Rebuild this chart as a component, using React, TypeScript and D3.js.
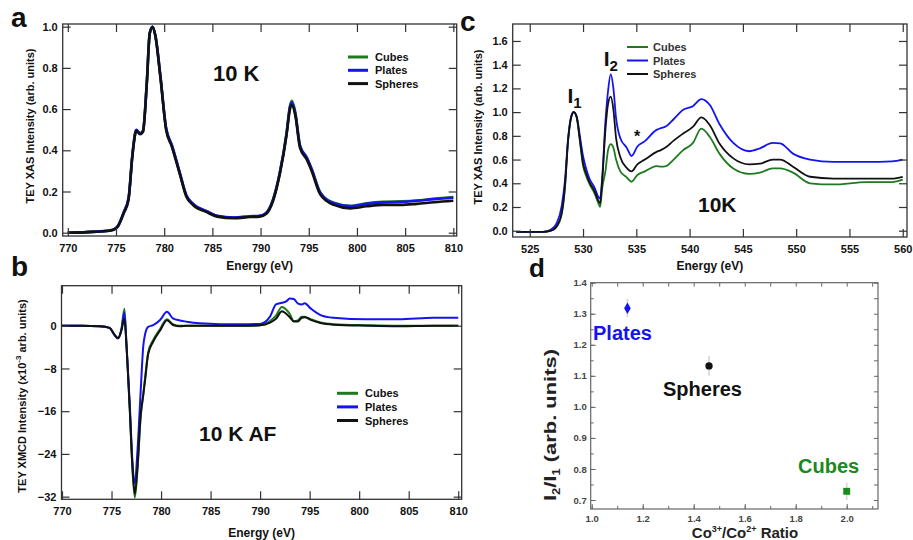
import { useEffect, useRef } from 'react'
import * as d3 from 'd3'

const FONT = '"Liberation Sans", Arial, Helvetica, sans-serif'
const GREEN = '#1f7a1f'
const BLUE = '#1414f0'
const BLACK = '#111111'

// ---- panel a : Co L-edge XAS ----
const energyA = [770, 772, 774, 774.7, 775.2, 775.8, 776.3, 776.7, 777.0, 777.1, 777.5, 777.8, 778.2, 778.5, 778.8, 779.1, 779.6, 780.2, 780.8, 781.6, 782.3, 783.0, 784.4, 785.5, 787.2, 788.9, 789.9, 790.6, 791.3, 792.0, 792.7, 793.05, 793.25, 793.6, 794.1, 794.8, 795.3, 796.2, 797.6, 799.3, 801.0, 802.7, 804.5, 806.2, 808.0, 810.0]
const cubesA = [0.0, 0.003, 0.008, 0.014, 0.032, 0.097, 0.164, 0.375, 0.484, 0.498, 0.48, 0.492, 0.73, 0.968, 1.0, 0.953, 0.762, 0.505, 0.422, 0.292, 0.18, 0.139, 0.104, 0.081, 0.073, 0.079, 0.081, 0.096, 0.161, 0.292, 0.485, 0.615, 0.64, 0.585, 0.422, 0.365, 0.31, 0.195, 0.145, 0.13, 0.143, 0.15, 0.152, 0.156, 0.165, 0.173]
const platesA = [0.0, 0.003, 0.009, 0.015, 0.034, 0.1, 0.168, 0.38, 0.487, 0.5, 0.483, 0.495, 0.735, 0.97, 1.0, 0.955, 0.765, 0.508, 0.425, 0.295, 0.182, 0.14, 0.105, 0.082, 0.074, 0.08, 0.082, 0.097, 0.162, 0.292, 0.482, 0.61, 0.632, 0.58, 0.42, 0.363, 0.308, 0.193, 0.143, 0.128, 0.14, 0.147, 0.149, 0.155, 0.163, 0.17]
const spheresA = [0.0, 0.003, 0.008, 0.013, 0.03, 0.094, 0.16, 0.37, 0.48, 0.495, 0.478, 0.49, 0.725, 0.966, 1.0, 0.95, 0.757, 0.5, 0.417, 0.288, 0.175, 0.134, 0.1, 0.078, 0.07, 0.076, 0.078, 0.092, 0.155, 0.285, 0.475, 0.6, 0.62, 0.57, 0.41, 0.355, 0.3, 0.185, 0.135, 0.118, 0.128, 0.135, 0.135, 0.14, 0.148, 0.155]

// ---- panel b : XMCD ----
const energyB = [770, 772, 773.8, 774.8, 775.3, 775.65, 776.0, 776.3, 776.5, 776.85, 777.1, 777.35, 777.6, 777.95, 778.2, 778.4, 778.7, 779.2, 779.9, 780.6, 781.2, 781.9, 782.6, 783.9, 786, 788, 790, 791, 791.6, 792.2, 792.6, 793.0, 793.4, 793.8, 794.2, 794.5, 795.1, 796.1, 797.4, 800.8, 804, 807.5, 810]
const cubesB = [0, 0, -0.1, -0.4, -1.7, -2.3, -0.6, 3.2, -3.2, -16, -26.5, -32.2, -27.5, -17, -13, -9.5, -5.0, -2.7, -0.6, 1.2, 0.3, 0, 0, 0, 0, 0, 0.1, 0.9, 1.9, 3.5, 3.1, 2.2, 0.9, 1.0, 1.7, 1.7, 1.25, 0.6, 0.3, 0.1, 0, 0, 0]
const platesB = [0, 0, -0.1, -0.4, -1.7, -2.3, -0.7, 2.5, -3.0, -15, -25, -29.5, -24, -12, -3.9, -1.5, -0.2, 0.1, 1.07, 2.6, 1.4, 1.0, 0.75, 0.45, 0.3, 0.3, 0.35, 1.7, 4.0, 4.3, 4.5, 5.1, 5.0, 4.2, 4.0, 4.2, 3.25, 2.0, 1.5, 1.2, 1.2, 1.5, 1.5]
const spheresB = [0, 0, -0.1, -0.4, -1.7, -2.4, -0.9, 1.3, -3.5, -16, -26, -31.5, -27, -16.5, -13, -10, -5.3, -3.0, -0.9, 1.05, 0.15, -0.1, 0, 0, 0, 0, 0.1, 0.6, 1.3, 2.7, 2.3, 1.6, 0.8, 0.8, 1.5, 1.6, 1.1, 0.5, 0.2, 0, -0.1, 0, 0]

// ---- panel c : O K-edge XAS ----
const energyC = [523.75, 526.25, 527.0, 527.5, 528.0, 528.3, 528.6, 528.9, 529.13, 529.4, 529.7, 530.0, 530.3, 530.6, 531.1, 531.4, 531.6, 531.8, 532.1, 532.35, 532.6, 532.85, 533.1, 533.5, 534.1, 534.55, 535.1, 535.8, 536.9, 537.3, 537.8, 538.5, 539.4, 540.3, 541.1, 541.9, 542.8, 544.1, 545.6, 546.6, 547.8, 548.5, 549.7, 551.3, 553.5, 556.6, 559, 560]
const cubesC = [-0.01, -0.01, 0.0, 0.03, 0.14, 0.36, 0.76, 0.96, 1.0, 0.955, 0.76, 0.55, 0.46, 0.395, 0.31, 0.24, 0.2, 0.36, 0.5, 0.68, 0.73, 0.7, 0.6, 0.5, 0.45, 0.413, 0.47, 0.5, 0.545, 0.54, 0.545, 0.6, 0.68, 0.738, 0.86, 0.79, 0.65, 0.525, 0.48, 0.49, 0.525, 0.525, 0.49, 0.4, 0.39, 0.41, 0.41, 0.43]
const platesC = [-0.01, -0.01, 0.01, 0.06, 0.21, 0.42, 0.78, 0.97, 1.0, 0.965, 0.8, 0.63, 0.52, 0.44, 0.36, 0.29, 0.27, 0.45, 0.92, 1.18, 1.32, 1.2, 0.95, 0.78, 0.7, 0.63, 0.71, 0.755, 0.85, 0.865, 0.88, 0.94, 1.02, 1.05, 1.11, 1.06, 0.9, 0.74, 0.67, 0.695, 0.74, 0.737, 0.65, 0.6, 0.58, 0.58, 0.585, 0.6]
const spheresC = [-0.01, -0.01, 0.0, 0.034, 0.15, 0.37, 0.765, 0.96, 1.0, 0.96, 0.77, 0.57, 0.48, 0.41, 0.33, 0.26, 0.23, 0.42, 0.85, 1.07, 1.13, 1.02, 0.78, 0.62, 0.53, 0.5, 0.56, 0.6, 0.665, 0.68, 0.705, 0.76, 0.82, 0.875, 0.955, 0.89, 0.735, 0.61, 0.56, 0.565, 0.6, 0.6, 0.54, 0.455, 0.44, 0.44, 0.44, 0.455]

// ---- panel d : I2/I1 vs Co3+/Co2+ ----
const samples = ['Plates', 'Spheres', 'Cubes']
const coRatio = [1.14, 1.46, 2.0]
const peakRatio = [1.318, 1.132, 0.728]
const peakErr = [0.03, 0.032, 0.028]

const seriesNames = ['Cubes', 'Plates', 'Spheres']
const seriesColors = [GREEN, BLUE, BLACK]

function drawPanel(svg: any, p: any) {
  const x = d3.scaleLinear().domain(p.xDomain).range([p.left, p.right])
  const y = d3.scaleLinear().domain(p.yDomain).range([p.bottom, p.top])

  svg.append('clipPath').attr('id', 'clip-' + p.id)
    .append('rect')
    .attr('x', p.left).attr('y', p.top)
    .attr('width', p.right - p.left).attr('height', p.bottom - p.top)

  const line = d3.line<any>()
    .x(d => x(d[0]))
    .y(d => y(d[1]))
    .curve(d3.curveMonotoneX)

  const plot = svg.append('g').attr('clip-path', `url(#clip-${p.id})`)
  p.series.forEach((vals: number[], i: number) => {
    plot.append('path')
      .datum(d3.zip(p.energy, vals))
      .attr('d', line)
      .attr('fill', 'none')
      .attr('stroke', seriesColors[i])
      .attr('stroke-width', p.lineWidth)
      .attr('stroke-linejoin', 'round')
  })

  const styleAxis = (g: any, size: number) => {
    g.attr('font-family', FONT).attr('font-size', size)
    g.select('.domain').remove()
    g.selectAll('line').attr('stroke', '#333').attr('stroke-width', 1.2)
    g.selectAll('text').attr('font-weight', 'bold').attr('fill', '#111')
  }

  svg.append('g').attr('transform', `translate(0,${p.bottom})`)
    .call(d3.axisBottom(x).tickValues(p.xTicks).tickSize(-8).tickPadding(8.3).tickFormat(d3.format('d')))
    .call((g: any) => styleAxis(g, 11))
  svg.append('g').attr('transform', `translate(0,${p.top})`)
    .call(d3.axisTop(x).tickValues(p.xTicks).tickSize(-8).tickFormat(() => ''))
    .call((g: any) => styleAxis(g, 11))
  svg.append('g').attr('transform', `translate(${p.left},0)`)
    .call(d3.axisLeft(y).tickValues(p.yTicks).tickSize(-8).tickPadding(5).tickFormat(p.yFormat))
    .call((g: any) => styleAxis(g, 11))
  svg.append('g').attr('transform', `translate(${p.right},0)`)
    .call(d3.axisRight(y).tickValues(p.yTicks).tickSize(-8).tickFormat(() => ''))
    .call((g: any) => styleAxis(g, 11))

  svg.append('rect')
    .attr('x', p.left).attr('y', p.top)
    .attr('width', p.right - p.left).attr('height', p.bottom - p.top)
    .attr('fill', 'none').attr('stroke', '#333').attr('stroke-width', 1.3)

  // x title
  svg.append('text')
    .attr('x', (p.left + p.right) / 2).attr('y', p.xTitleY)
    .attr('text-anchor', 'middle')
    .attr('font-family', FONT).attr('font-size', 12).attr('font-weight', 'bold').attr('fill', '#111')
    .text('Energy (eV)')

  // y title
  const yt = svg.append('text')
    .attr('transform', `translate(${p.yTitleX},${p.yTitleCY}) rotate(-90)`)
    .attr('text-anchor', 'middle')
    .attr('font-family', FONT).attr('font-size', 11).attr('font-weight', 'bold').attr('fill', '#111')
  p.yTitle(yt)

  // legend
  seriesNames.forEach((name, i) => {
    const ly = p.legend.y + i * p.legend.dy
    svg.append('line')
      .attr('x1', p.legend.x).attr('x2', p.legend.x + p.legend.len)
      .attr('y1', ly).attr('y2', ly)
      .attr('stroke', seriesColors[i]).attr('stroke-width', p.legend.width)
    svg.append('text')
      .attr('x', p.legend.tx).attr('y', ly + 4)
      .attr('font-family', FONT).attr('font-size', 11).attr('font-weight', 'bold')
      .attr('fill', p.legend.color)
      .text(name)
  })

  return { x, y }
}

export default function App() {
  const ref = useRef<SVGSVGElement>(null)

  useEffect(() => {
    const svg = d3.select(ref.current)
    svg.selectAll('*').remove()

    const bigText = (x: number, y: number, size: number, txt: string) =>
      svg.append('text').attr('x', x).attr('y', y)
        .attr('font-family', FONT).attr('font-size', size).attr('font-weight', 'bold').attr('fill', '#111')
        .text(txt)

    // a
    drawPanel(svg, {
      id: 'a', left: 62.7, right: 456.7, top: 24, bottom: 236,
      xDomain: [769.47, 810.35], yDomain: [-0.016, 1.013],
      xTicks: d3.range(770, 811, 5), yTicks: [0, 0.2, 0.4, 0.6, 0.8, 1.0], yFormat: d3.format('.1f'),
      energy: energyA, series: [cubesA, platesA, spheresA], lineWidth: 2.6,
      xTitleY: 269.5, yTitleX: 34, yTitleCY: 126,
      yTitle: (t: any) => t.text('TEY XAS Intensity (arb. units)'),
      legend: { x: 348, len: 20, tx: 375, y: 57, dy: 13.3, width: 3, color: '#111' },
    })
    bigText(213, 80.5, 22, '10 K')

    // b
    drawPanel(svg, {
      id: 'b', left: 61.5, right: 461.7, top: 285.7, bottom: 499.3,
      xDomain: [769.95, 810.35], yDomain: [-32.5, 7.5],
      xTicks: d3.range(770, 811, 5), yTicks: [0, -8, -16, -24, -32], yFormat: d3.format('d'),
      energy: energyB, series: [cubesB, platesB, spheresB], lineWidth: 2,
      xTitleY: 537, yTitleX: 26, yTitleCY: 396,
      yTitle: (t: any) => {
        t.append('tspan').text('TEY XMCD Intensity (x10')
        t.append('tspan').attr('dy', -5).attr('font-size', 8).text('-3')
        t.append('tspan').attr('dy', 5).text('  arb. units)')
      },
      legend: { x: 337, len: 21, tx: 365, y: 393.3, dy: 13.6, width: 3, color: '#111' },
    })
    bigText(199, 440.7, 21, '10 K AF')

    // c
    const c = drawPanel(svg, {
      id: 'c', left: 512.7, right: 907, top: 24, bottom: 237,
      xDomain: [523.4, 560.4], yDomain: [-0.053, 1.743],
      xTicks: d3.range(525, 561, 5), yTicks: d3.range(0, 1.61, 0.2), yFormat: d3.format('.1f'),
      energy: energyC, series: [cubesC, platesC, spheresC], lineWidth: 1.8,
      xTitleY: 270, yTitleX: 482, yTitleCY: 127,
      yTitle: (t: any) => t.text('TEY XAS Intensity (arb. units)'),
      legend: { x: 627, len: 21, tx: 653, y: 47, dy: 13.5, width: 2, color: '#333' },
    })
    bigText(698, 211.7, 21, '10K')
    const peakLabel = (x: number, y: number, sub: string) => {
      const t = svg.append('text').attr('x', x).attr('y', y)
        .attr('font-family', FONT).attr('font-size', 21).attr('font-weight', 'bold').attr('fill', '#111')
      t.append('tspan').text('I')
      t.append('tspan').attr('dy', 5).attr('font-size', 15).text(sub)
    }
    peakLabel(c.x(529.0) - 5, 103, '1')
    peakLabel(c.x(532.6) - 7, 66, '2')
    bigText(634, 142, 16, '*')

    // panel letters
    bigText(11, 27, 28, 'a')
    bigText(11, 276, 28, 'b')
    bigText(460, 31, 28, 'c')
    bigText(529, 277, 26, 'd')

    // d
    const L = 590.7, R = 878, T = 282.7, B = 509
    const x = d3.scaleLinear().domain([0.996, 2.1227]).range([L, R])
    const y = d3.scaleLinear().domain([0.671, 1.4]).range([B, T])
    const dStyle = (g: any) => {
      g.attr('font-family', FONT).attr('font-size', 9.5)
      g.select('.domain').remove()
      g.selectAll('line').attr('stroke', '#666').attr('stroke-width', 1)
      g.selectAll('text').attr('fill', '#444').attr('font-weight', 'bold')
    }
    const xMinor = d3.range(1.0, 2.11, 0.1)
    const yMinor = d3.range(0.7, 1.41, 0.05)
    const xMajor = [1.0, 1.2, 1.4, 1.6, 1.8, 2.0]
    const yMajor = [0.7, 0.8, 0.9, 1.0, 1.1, 1.2, 1.3, 1.4]
    svg.append('g').attr('transform', `translate(0,${B})`)
      .call(d3.axisBottom(x).tickValues(xMinor).tickSize(-3).tickFormat(() => '')).call(dStyle)
    svg.append('g').attr('transform', `translate(0,${B})`)
      .call(d3.axisBottom(x).tickValues(xMajor).tickSize(-5).tickPadding(6.5).tickFormat(d3.format('.1f'))).call(dStyle)
    svg.append('g').attr('transform', `translate(0,${T})`)
      .call(d3.axisTop(x).tickValues(xMinor).tickSize(-4).tickFormat(() => '')).call(dStyle)
    svg.append('g').attr('transform', `translate(${L},0)`)
      .call(d3.axisLeft(y).tickValues(yMinor).tickSize(-3).tickFormat(() => '')).call(dStyle)
    svg.append('g').attr('transform', `translate(${L},0)`)
      .call(d3.axisLeft(y).tickValues(yMajor).tickSize(-5).tickPadding(4).tickFormat(d3.format('.1f'))).call(dStyle)
    svg.append('g').attr('transform', `translate(${R},0)`)
      .call(d3.axisRight(y).tickValues(yMinor).tickSize(-4).tickFormat(() => '')).call(dStyle)
    svg.append('rect').attr('x', L).attr('y', T).attr('width', R - L).attr('height', B - T)
      .attr('fill', 'none').attr('stroke', '#666').attr('stroke-width', 1.2)

    const dColors = [BLUE, BLACK, '#1a8a1a']
    const dSymbols = [d3.symbolDiamond, d3.symbolCircle, d3.symbolSquare]
    const dSizes = [38, 42, 48]
    samples.forEach((s, i) => {
      svg.append('line')
        .attr('x1', x(coRatio[i])).attr('x2', x(coRatio[i]))
        .attr('y1', y(peakRatio[i] - peakErr[i])).attr('y2', y(peakRatio[i] + peakErr[i]))
        .attr('stroke', '#d4d4e0').attr('stroke-width', 1.6)
      svg.append('path')
        .attr('transform', `translate(${x(coRatio[i])},${y(peakRatio[i])})`)
        .attr('d', d3.symbol(dSymbols[i], dSizes[i])())
        .attr('fill', dColors[i])
    })
    const dLabels = [[593, 339.5], [663, 396], [798, 473]]
    samples.forEach((s, i) => {
      svg.append('text').attr('x', dLabels[i][0]).attr('y', dLabels[i][1])
        .attr('font-family', FONT).attr('font-size', 20).attr('font-weight', 'bold')
        .attr('fill', i === 1 ? '#111' : dColors[i])
        .text(s)
    })

    const xt = svg.append('text').attr('x', 745).attr('y', 537.5)
      .attr('text-anchor', 'middle')
      .attr('font-family', FONT).attr('font-size', 15).attr('font-weight', 'bold').attr('fill', '#222')
    xt.append('tspan').text('Co')
    xt.append('tspan').attr('dy', -6).attr('font-size', 9).text('3+')
    xt.append('tspan').attr('dy', 6).text('/Co')
    xt.append('tspan').attr('dy', -6).attr('font-size', 9).text('2+')
    xt.append('tspan').attr('dy', 6).text(' Ratio')

    const yt = svg.append('text')
      .attr('transform', 'translate(556,425) rotate(-90)')
      .attr('text-anchor', 'middle')
      .attr('font-family', FONT).attr('font-size', 17).attr('font-weight', 'bold').attr('fill', '#222')
      .attr('textLength', 152).attr('lengthAdjust', 'spacingAndGlyphs')
    yt.append('tspan').text('I')
    yt.append('tspan').attr('dy', 4).attr('font-size', 10).text('2')
    yt.append('tspan').attr('dy', -4).text('/I')
    yt.append('tspan').attr('dy', 4).attr('font-size', 10).text('1')
    yt.append('tspan').attr('dy', -4).text(' (arb. units)')
  }, [])

  return (
    <svg
      ref={ref}
      width={913}
      height={540}
      style={{ position: 'absolute', left: 0, top: 0, background: '#fff' }}
    />
  )
}
